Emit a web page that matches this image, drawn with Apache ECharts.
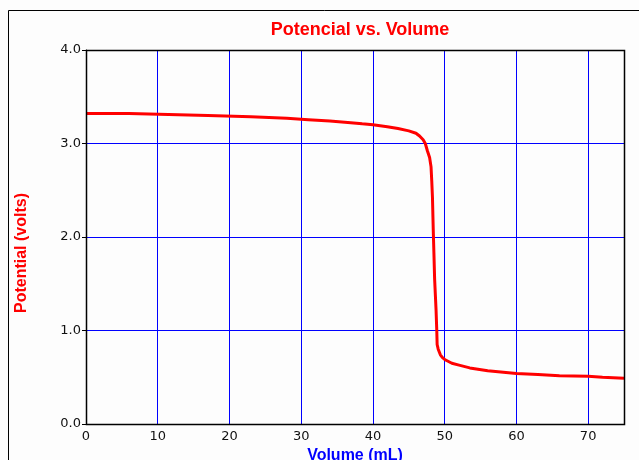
<!DOCTYPE html>
<html>
<head>
<meta charset="utf-8">
<script src="https://cdn.jsdelivr.net/npm/echarts@6/dist/echarts.min.js"></script>
<style>
  html, body { margin: 0; padding: 0; background: #fdfdfd; }
  #main { width: 639px; height: 460px; }
</style>
</head>
<body>
<div id="main"></div>
<script>
// volume added (mL) and measured potential (volts)
const volume = [0, 6, 6.1, 17, 23, 28, 31, 34, 36.5, 38.5, 40, 42, 43.5, 45, 46, 46.5, 47, 47.3, 47.6, 47.9,
  48.1, 48.2, 48.3, 48.4, 48.5, 48.6, 48.8, 48.9, 48.95, 49.1, 49.4, 49.7, 50, 51, 52, 53.5, 56, 60, 63, 66, 70, 72, 75];
const potential = [3.32, 3.32, 3.31, 3.30, 3.285, 3.27, 3.255, 3.24, 3.225, 3.21, 3.20, 3.18, 3.16, 3.135, 3.11, 3.08, 3.04, 3.0, 2.92, 2.85,
  2.75, 2.6, 2.42, 2.1, 1.83, 1.55, 1.22, 1.0, 0.85, 0.80, 0.74, 0.71, 0.69, 0.65, 0.63, 0.60, 0.57, 0.54, 0.53, 0.517, 0.51, 0.50, 0.488];

const chartTitle = 'Potencial vs. Volume';
const xName = 'Volume (mL)';
const yName = 'Potential (volts)';

(() => {
    let chart = echarts.init(document.getElementById('main'));

    let points = [];
    for (let i = 0; i < volume.length; i++) {
        points.push([volume[i], potential[i]]);
    }

    // plot box
    const L = 86, T = 50, R = 624, B = 424;

    chart.setOption({
        backgroundColor: '#fdfdfd',
        animation: false,
        title: {
            text: chartTitle,
            left: 355,
            top: 16,
            textAlign: 'center',
            textStyle: { color: '#ff0000', fontFamily: 'Arial, "Liberation Sans"', fontSize: 18, fontWeight: 'bold' }
        },
        grid: { left: L, top: T, right: 639 - R, bottom: 460 - B, outerBoundsMode: 'none', containLabel: false },
        xAxis: {
            type: 'value',
            min: 0,
            max: 75,
            interval: 10,
            name: xName,
            nameLocation: 'middle',
            nameGap: 20,
            nameTextStyle: { color: '#0000ff', fontFamily: 'Arial, "Liberation Sans"', fontSize: 16, fontWeight: 'bold' },
            axisLine: { show: true, lineStyle: { color: '#000', width: 1 } },
            axisTick: { show: false },
            axisLabel: { color: '#111', fontFamily: '"DejaVu Sans"', fontSize: 13, margin: 6, showMaxLabel: false },
            splitLine: { show: true, lineStyle: { color: '#0000ff', width: 1 } }
        },
        yAxis: {
            type: 'value',
            min: 0,
            max: 4,
            interval: 1,
            axisLine: { show: true, lineStyle: { color: '#000', width: 1 } },
            axisTick: { show: true, length: 4, lineStyle: { color: '#000' } },
            axisLabel: {
                color: '#111', fontFamily: '"DejaVu Sans"', fontSize: 13, margin: 5,
                formatter: v => v.toFixed(1)
            },
            splitLine: { show: true, lineStyle: { color: '#0000ff', width: 1 } }
        },
        graphic: [
            {
                type: 'rect',
                shape: { x: 8.5, y: 10.5, width: 700, height: 500 },
                style: { fill: null, stroke: '#000', lineWidth: 1 },
                z: 100
            },
            {
                type: 'rect',
                shape: { x: L + 0.5, y: T + 0.5, width: R - L, height: B - T },
                style: { fill: null, stroke: '#000', lineWidth: 1.5 },
                z: 100
            },
            {
                type: 'text',
                x: 22,
                y: 253,
                rotation: Math.PI / 2,
                style: {
                    text: yName,
                    fill: '#ff0000',
                    font: 'bold 16px Arial, "Liberation Sans"',
                    textAlign: 'center',
                    textVerticalAlign: 'middle'
                },
                z: 100
            }
        ],
        series: [{
            type: 'line',
            data: points,
            showSymbol: false,
            symbol: 'none',
            lineStyle: { color: '#ff0000', width: 3 },
            z: 10
        }]
    });
})();
</script>
</body>
</html>
